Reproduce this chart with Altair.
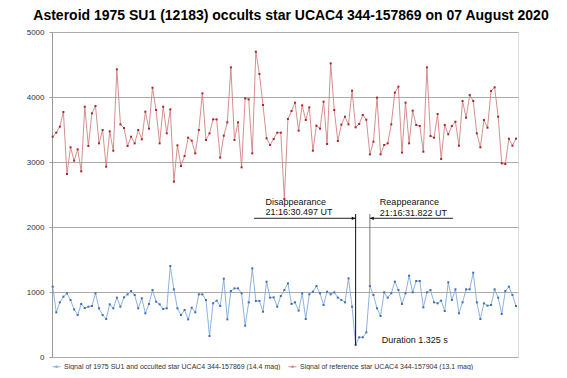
import altair as alt
import pandas as pd

blue_label = "Signal of 1975 SU1 and occulted star UCAC4 344-157869 (14.4 mag)"
red_label = "Signal of reference star UCAC4 344-157904 (13.1 mag)"

blue = [1082, 687, 841, 928, 980, 877, 733, 646, 815, 754,
        774, 785, 980, 749, 646, 585, 810, 749, 913, 774,
        918, 964, 1015, 954, 749, 903, 672, 815, 1031, 851,
        810, 738, 749, 1400, 1041, 749, 646, 723, 579, 759,
        687, 964, 964, 877, 323, 826, 867, 785, 1205, 579,
        1015, 1056, 1056, 980, 482, 841, 1364, 862, 862, 697,
        1159, 913, 918, 774, 938, 1031, 1133, 815, 841, 713,
        980, 585, 964, 1005, 1092, 980, 800, 1005, 964, 995,
        913, 877, 841, 1210, 774, 185, 303, 303, 379, 1092,
        954, 749, 631, 995, 913, 980, 1159, 1031, 815, 980,
        1251, 995, 1169, 1169, 764, 995, 1031, 841, 826, 867,
        708, 1149, 877, 1041, 672, 841, 1041, 1041, 1297, 841,
        585, 826, 790, 800, 1041, 913, 662, 1015, 1082, 954,
        785]

red = [3389, 3451, 3543, 3769, 2815, 3226, 3020, 3195, 2856, 3851,
       3246, 3749, 3862, 3287, 3492, 2928, 3472, 3174, 4426, 3579,
       3523, 3246, 3389, 3287, 3492, 3349, 3774, 3513, 4143, 3800,
       3287, 3851, 3441, 3810, 2697, 3256, 2938, 3092, 3374, 3328,
       3133, 3492, 4056, 3338, 3441, 3656, 3656, 3067, 3405, 3610,
       4456, 3338, 3610, 2918, 3979, 3964, 3133, 4697, 4354, 3877,
       3364, 3262, 3354, 3451, 3451, 2430, 3662, 3785, 3913, 3482,
       3872, 3646, 3841, 3174, 3559, 3513, 3928, 3277, 4518, 3800,
       3323, 3574, 3697, 3579, 4097, 3533, 3585, 3723, 3651, 3118,
       3313, 3990, 3118, 3262, 3287, 3579, 4067, 4159, 3144, 3913,
       3287, 3790, 3569, 3554, 3159, 4456, 3400, 3374, 3738, 3046,
       3569, 3426, 3554, 3620, 3251, 3938, 3682, 4031, 3938, 3441,
       3226, 3646, 3528, 4092, 4149, 3697, 2979, 2969, 3359, 3251,
       3359]

frames = list(range(1, len(blue) + 1))
y_ticks = list(range(0, 5001, 500))

# annotation data
disappear_frame = 86
reappear_frame = 90
arrow_level = 2134
vline_top = 2200
labels_text = ["Disappearance", "21:16:30.497 UT", "Reappearance", "21:16:31.822 UT", "Duration 1.325 s"]
labels_x = [60.7, 60.7, 92.8, 92.8, 93.3]
labels_y = [2392, 2230, 2377, 2215, 262]

df = pd.DataFrame({
    "i": frames * 2,
    "v": blue + red,
    "series": [blue_label] * len(blue) + [red_label] * len(red),
})

xs = alt.Scale(domain=[0.8, 131.56], nice=False, zero=False)
ys = alt.Scale(domain=[0, 5000], nice=False)

X = alt.X("i:Q", scale=xs, axis=None)
Y = alt.Y("v:Q", scale=ys, axis=alt.Axis(values=y_ticks, title=None, tickSize=3, labelPadding=5,
                                          labelFont="Liberation Sans", labelFontSize=8, labelColor="#333333",
                                          domainColor="#9a9a9a", tickColor="#9a9a9a", gridColor="#ababab",
                                          gridWidth=1, format="d"))

lines = alt.Chart(df).mark_line(strokeWidth=1, opacity=0.85).encode(
    x=X, y=Y,
    color=alt.Color("series:N", scale=alt.Scale(domain=[blue_label, red_label], range=["#7aa5d8", "#cf7b7b"]),
                    legend=alt.Legend(title=None, orient="none", legendX=0, legendY=330, direction="horizontal",
                                      columns=2, padding=0, columnPadding=5, labelFont="Liberation Sans",
                                      labelFontSize=7, labelColor="#333333", labelOffset=3, labelLimit=0,
                                      symbolType="M-1,0H1M-0.2,-0.2H0.2V0.2H-0.2Z", symbolSize=64,
                                      symbolStrokeWidth=1, symbolFillColor="transparent")),
)

points = alt.Chart(df).mark_point(shape="square", filled=True, size=4, opacity=1).encode(
    x=X, y=Y,
    color=alt.Color("series:N", scale=alt.Scale(domain=[blue_label, red_label], range=["#3d6fb3", "#a8262a"]),
                    legend=None),
)

hdf = pd.DataFrame({"x": [57.5, reappear_frame], "x2": [disappear_frame, 113.3], "y": [arrow_level, arrow_level]})
harrows = alt.Chart(hdf).mark_rule(color="#222222", strokeWidth=1).encode(
    x=alt.X("x:Q", scale=xs), x2="x2:Q", y=alt.Y("y:Q", scale=ys))

vdf = pd.DataFrame({"x": [disappear_frame, reappear_frame], "y": [blue[disappear_frame - 1], blue[reappear_frame - 1]],
                    "y2": [vline_top, vline_top], "c": ["a", "b"]})
vlines = alt.Chart(vdf).mark_rule(strokeWidth=1).encode(
    x=alt.X("x:Q", scale=xs), y=alt.Y("y:Q", scale=ys), y2="y2:Q",
    color=alt.Color("c:N", scale=alt.Scale(domain=["a", "b"], range=["#111111", "#777777"]), legend=None))

adf = pd.DataFrame({"x": [disappear_frame, reappear_frame], "y": [arrow_level, arrow_level],
                    "s": ["M0,0L-2.6,-1.1L-2.6,1.1Z", "M0,0L2.6,-1.1L2.6,1.1Z"]})
heads = alt.Chart(adf).mark_point(filled=True, size=9, color="#111111", opacity=1).encode(
    x=alt.X("x:Q", scale=xs), y=alt.Y("y:Q", scale=ys),
    shape=alt.Shape("s:N", scale=None))

tdf = pd.DataFrame({"t": labels_text, "x": labels_x, "y": labels_y})
texts = alt.Chart(tdf).mark_text(align="left", baseline="middle", font="Liberation Sans", fontSize=9,
                                 color="#111111").encode(
    x=alt.X("x:Q", scale=xs), y=alt.Y("y:Q", scale=ys), text="t:N")

chart = alt.layer(lines, points, vlines, harrows, heads, texts).resolve_scale(color="independent").properties(
    width=466, height=325,
    title=alt.TitleParams("Asteroid 1975 SU1 (12183) occults star UCAC4 344-157869 on 07 August 2020",
                          font="Liberation Sans", fontSize=14, fontWeight="bold", color="#000000",
                          anchor="middle", baseline="bottom", frame="group", offset=11, dx=6, dy=20),
    autosize=alt.AutoSizeParams(type="none"),
    padding={"left": 44, "top": 24, "right": 41, "bottom": 13},
).configure_view(stroke=None).configure(background="white")

chart.save("out.html", embed_options={"renderer": "svg", "actions": False})
